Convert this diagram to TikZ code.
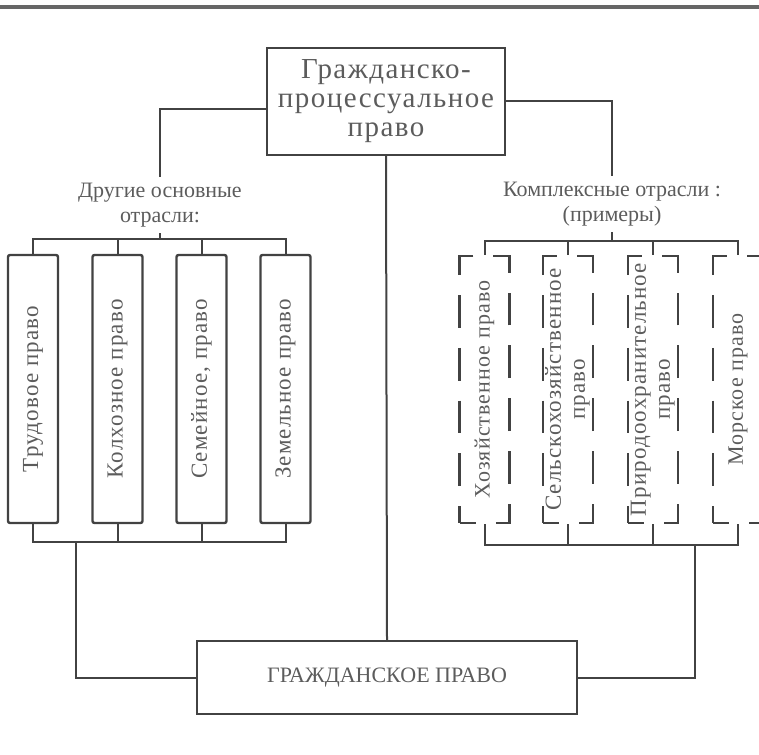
\documentclass[tikz,border=0pt]{standalone}
\usepackage{fontspec}
\usepackage{graphicx}
\usepackage{tikz}
\setmainfont{Liberation Serif}
\newfontfamily\spacedfont[LetterSpace=5]{Liberation Serif}
\definecolor{ink}{HTML}{424242}
\definecolor{print}{HTML}{5C5C5C}
\tikzset{
    link/.style={draw=ink, line width=1pt},
    mainbox/.style={draw=ink, line width=1.2pt, inner sep=0pt, align=center, text=print},
    caption/.style={align=center, inner sep=3pt, text=print, font=\fontsize{11}{12.5}\selectfont},
    branch/.style={draw=ink, line width=1.2pt, rounded corners=1pt, inner sep=0pt,
        minimum width=25pt, minimum height=134pt, text=print, font=\spacedfont\fontsize{11.5}{12}\selectfont},
    complexbox/.style={draw=ink, line width=1.2pt, dash pattern=on 16.4pt off 10pt, dash phase=8.2pt,
        inner sep=0pt, minimum width=25pt, minimum height=133.5pt, text=print, font=\spacedfont\fontsize{11}{12}\selectfont},
    twoline/.style={font=\spacedfont\fontsize{11.5}{12}\selectfont}
}

\begin{document}
\begin{tikzpicture}[x=0.5pt, y=-0.5pt]
        \useasboundingbox (0,0) rectangle (759,754);
        \draw[line width=1.6pt, black!60] (0,7) -- (759,7);

        % top and bottom boxes
        \node[mainbox, minimum width=119pt, minimum height=53.5pt, font=\spacedfont\fontsize{14.5}{14.5}\selectfont]
            (procedure) at (386,101.5) {Гражданско-\\процессуальное\\право};
        \node[mainbox, minimum width=190pt, minimum height=36.5pt, font=\fontsize{11}{12}\selectfont]
            (civil) at (387,677.5) {ГРАЖДАНСКОЕ ПРАВО};
        \draw[link] (procedure.south) -- (civil.north);

        % other basic branches
        \node[caption] (other) at (160,205) {Другие основные\\отрасли:};
        \node[branch] (labour)  at ( 33.0,389) {\rotatebox{90}{Трудовое право}};
        \node[branch] (kolkhoz) at (117.5,389) {\rotatebox{90}{Колхозное право}};
        \node[branch] (family)  at (201.5,389) {\rotatebox{90}{Семейное, право}};
        \node[branch] (land)    at (285.5,389) {\rotatebox{90}{Земельное право}};
        \coordinate (ltop) at (160,239);
        \coordinate (lbot) at (76,542);

        \draw[link] ([yshift=-4pt]procedure.west) -| (other.north);
        \draw[link] (other.south) -- (ltop);
        \draw[link] (labour.north) -- (labour.north |- ltop) -- (land.north |- ltop) -- (land.north);
        \draw[link] (kolkhoz.north) -- (kolkhoz.north |- ltop);
        \draw[link] (family.north) -- (family.north |- ltop);
        \draw[link] (labour.south) -- (labour.south |- lbot) -- (land.south |- lbot) -- (land.south);
        \draw[link] (kolkhoz.south) -- (kolkhoz.south |- lbot);
        \draw[link] (family.south) -- (family.south |- lbot);
        \draw[link] (lbot) |- (civil.west);

        % complex branches
        \node[caption] (complex) at (612,204) {Комплексные отрасли :\\(примеры)};
        \node[complexbox] (economic) at (484.5,389.5) {\rotatebox{90}{Хозяйственное право}};
        \node[complexbox, twoline] (agri) at (568.0,389.5)
            {\rotatebox{90}{\begin{tabular}{@{}c@{}}Сельскохозяйственное\\право\end{tabular}}};
        \node[complexbox, twoline] (nature) at (653.0,389.5)
            {\rotatebox{90}{\begin{tabular}{@{}c@{}}Природоохранительное\\право\end{tabular}}};
        \node[complexbox] (maritime) at (738.0,389.5) {\rotatebox{90}{Морское право}};
        \coordinate (rtop) at (612,241);
        \coordinate (rbot) at (695,545);

        \draw[link] (procedure.east) -| (complex.north);
        \draw[link] (complex.south) -- (rtop);
        \draw[link] (economic.north) -- (economic.north |- rtop) -- (maritime.north |- rtop) -- (maritime.north);
        \draw[link] (agri.north) -- (agri.north |- rtop);
        \draw[link] (nature.north) -- (nature.north |- rtop);
        \draw[link] (economic.south) -- (economic.south |- rbot) -- (maritime.south |- rbot) -- (maritime.south);
        \draw[link] (agri.south) -- (agri.south |- rbot);
        \draw[link] (nature.south) -- (nature.south |- rbot);
        \draw[link] (rbot) |- (civil.east);
    \end{tikzpicture}
\end{document}
